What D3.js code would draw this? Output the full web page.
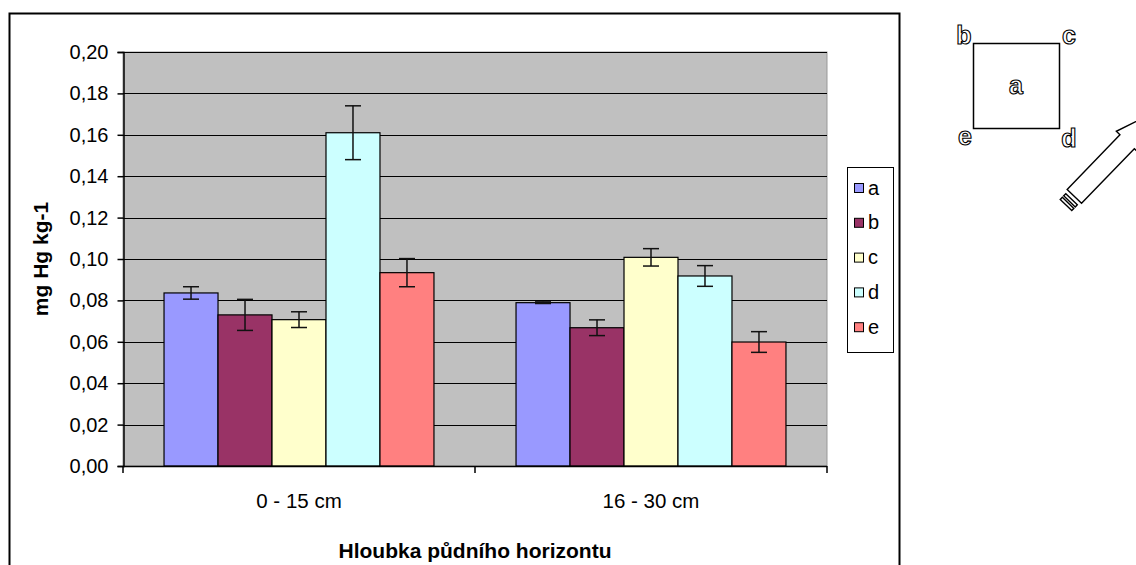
<!DOCTYPE html>
<html lang="cs">
<head>
    <meta charset="UTF-8">
    <title>Hg v půdě</title>

    <script src="https://d3js.org/d3.v7.min.js"></script>

    <style>
        body {
            margin: 0;
            background: #fff;
        }
        text {
            font-family: "Liberation Sans", Arial, sans-serif;
        }
    </style>

    <script>

        const CATEGORIES = ["0 - 15 cm", "16 - 30 cm"];
        const SERIES = ["a", "b", "c", "d", "e"];
        const COLORS = ["#9999FF", "#993366", "#FFFFCC", "#CCFFFF", "#FF8080"];

        // mean values per series, one per category
        const VALUES_A = [0.0836, 0.0789];
        const VALUES_B = [0.0730, 0.0668];
        const VALUES_C = [0.0707, 0.1008];
        const VALUES_D = [0.1610, 0.0918];
        const VALUES_E = [0.0934, 0.0599];

        // error bar half-widths
        const ERR_A = [0.0030, 0.0004];
        const ERR_B = [0.0075, 0.0038];
        const ERR_C = [0.0038, 0.0042];
        const ERR_D = [0.0130, 0.0050];
        const ERR_E = [0.0068, 0.0050];

        const Y_TICKS = [0, 0.02, 0.04, 0.06, 0.08, 0.10, 0.12, 0.14, 0.16, 0.18, 0.20];

        document.addEventListener("DOMContentLoaded", function() {
            drawChart();
        })

        function drawChart() {
            const svg = d3.select('svg');
            const width = 1136;
            const height = 565;
            svg.attr("width", width).attr("height", height);

            const allValues = [VALUES_A, VALUES_B, VALUES_C, VALUES_D, VALUES_E];
            const allErrors = [ERR_A, ERR_B, ERR_C, ERR_D, ERR_E];

            const rows = [];
            CATEGORIES.forEach(function(cat, ci) {
                SERIES.forEach(function(s, si) {
                    rows.push({cat: cat, series: s, value: allValues[si][ci], err: allErrors[si][ci]});
                });
            });

            // outer chart frame
            svg.append("rect")
                .attr("x", 9.5).attr("y", 13.5)
                .attr("width", 890).attr("height", 570)
                .attr("fill", "none")
                .attr("stroke", "black")
                .attr("stroke-width", 2);

            const plot = {left: 123, right: 827, top: 52, bottom: 466};

            const x = d3.scaleBand()
                .domain(CATEGORIES)
                .range([plot.left, plot.right]);

            const xInner = d3.scaleBand()
                .domain(SERIES)
                .range([0, x.bandwidth()])
                .paddingOuter(0.76);

            const y = d3.scaleLinear()
                .domain([0, 0.2])
                .range([plot.bottom, plot.top]);

            const color = d3.scaleOrdinal().domain(SERIES).range(COLORS);

            const locale = d3.formatLocale({decimal: ",", thousands: " ", grouping: [3], currency: ["", ""]});
            const fmt = locale.format(".2f");

            // plot background
            svg.append("rect")
                .attr("x", plot.left).attr("y", plot.top)
                .attr("width", plot.right - plot.left)
                .attr("height", plot.bottom - plot.top)
                .attr("fill", "#C0C0C0")
                .attr("stroke", "#999")
                .attr("stroke-width", 1);

            // gridlines
            svg.append("g")
                .selectAll("line")
                .data(Y_TICKS.slice(1))
                .enter()
                .append("line")
                .attr("x1", plot.left).attr("x2", plot.right)
                .attr("y1", d => Math.round(y(d)) + 0.5)
                .attr("y2", d => Math.round(y(d)) + 0.5)
                .attr("stroke", "black")
                .attr("stroke-width", 1);

            // bars
            const bars = svg.append("g");
            bars.selectAll("rect")
                .data(rows)
                .enter()
                .append("rect")
                .attr("x", d => x(d.cat) + xInner(d.series))
                .attr("y", d => y(d.value))
                .attr("width", xInner.bandwidth())
                .attr("height", d => y(0) - y(d.value))
                .attr("fill", d => color(d.series))
                .attr("stroke", "black")
                .attr("stroke-width", 1.2);

            // error bars
            const errs = svg.append("g").attr("stroke", "#111").attr("stroke-width", 1.5);
            rows.forEach(function(d) {
                const cx = x(d.cat) + xInner(d.series) + xInner.bandwidth() / 2;
                errs.append("line")
                    .attr("x1", cx).attr("x2", cx)
                    .attr("y1", y(d.value + d.err)).attr("y2", y(d.value - d.err));
                [d.value + d.err, d.value - d.err].forEach(function(v) {
                    errs.append("line")
                        .attr("x1", cx - 8).attr("x2", cx + 8)
                        .attr("y1", y(v)).attr("y2", y(v));
                });
            });

            // y axis
            const yAxis = d3.axisLeft(y)
                .tickValues(Y_TICKS)
                .tickFormat(fmt)
                .tickSize(6)
                .tickPadding(9);
            const gy = svg.append("g")
                .attr("transform", "translate(" + (plot.left + 0.5) + ",0)")
                .call(yAxis);
            gy.selectAll("path, line").attr("stroke", "black").attr("stroke-width", 1.5);
            gy.selectAll("text")
                .attr("font-size", "20px")
                .attr("font-family", "'Liberation Sans', Arial, sans-serif")
                .attr("fill", "black");

            // x axis: ticks at category boundaries
            const boundaries = [plot.left].concat(CATEGORIES.map(c => x(c) + x.bandwidth()));
            const gx = svg.append("g");
            gx.append("line")
                .attr("x1", plot.left).attr("x2", plot.right)
                .attr("y1", plot.bottom + 0.5).attr("y2", plot.bottom + 0.5)
                .attr("stroke", "black").attr("stroke-width", 1.5);
            gx.selectAll("line.tick")
                .data(boundaries)
                .enter()
                .append("line")
                .attr("class", "tick")
                .attr("x1", d => d).attr("x2", d => d)
                .attr("y1", plot.bottom).attr("y2", plot.bottom + 7)
                .attr("stroke", "black").attr("stroke-width", 1.5);
            gx.selectAll("text")
                .data(CATEGORIES)
                .enter()
                .append("text")
                .attr("x", d => x(d) + x.bandwidth() / 2)
                .attr("y", 508)
                .attr("text-anchor", "middle")
                .attr("font-size", "20.5px")
                .text(d => d);

            // axis titles
            svg.append("text")
                .attr("x", (plot.left + plot.right) / 2)
                .attr("y", 558)
                .attr("text-anchor", "middle")
                .attr("font-size", "21px")
                .attr("font-weight", "bold")
                .text("Hloubka půdního horizontu");

            svg.append("text")
                .attr("transform", "translate(48," + ((plot.top + plot.bottom) / 2) + ") rotate(-90)")
                .attr("text-anchor", "middle")
                .attr("font-size", "21px")
                .attr("font-weight", "bold")
                .text("mg Hg kg-1");

            // legend
            const legend = svg.append("g").attr("transform", "translate(847,167)");
            legend.append("rect")
                .attr("x", 0.5).attr("y", 0.5)
                .attr("width", 46).attr("height", 185)
                .attr("fill", "white")
                .attr("stroke", "black");
            const items = legend.selectAll("g.item")
                .data(SERIES)
                .enter()
                .append("g")
                .attr("class", "item")
                .attr("transform", (d, i) => "translate(0," + (21 + i * 34.8) + ")");
            items.append("rect")
                .attr("x", 7.5).attr("y", -4.5)
                .attr("width", 9).attr("height", 9)
                .attr("fill", d => color(d))
                .attr("stroke", "black");
            items.append("text")
                .attr("x", 21).attr("y", 6.5)
                .attr("font-size", "20px")
                .text(d => d);

            // sketch of the sampling plot: square with corner labels
            const sketch = svg.append("g");
            sketch.append("rect")
                .attr("x", 973.5).attr("y", 43.5)
                .attr("width", 86).attr("height", 85)
                .attr("fill", "none")
                .attr("stroke", "black")
                .attr("stroke-width", 1.5);
            const corners = [
                {t: "b", x: 964, y: 44},
                {t: "c", x: 1069, y: 44},
                {t: "e", x: 965, y: 145},
                {t: "d", x: 1069, y: 147},
                {t: "a", x: 1016, y: 94}
            ];
            sketch.selectAll("text")
                .data(corners)
                .enter()
                .append("text")
                .attr("x", d => d.x).attr("y", d => d.y)
                .attr("text-anchor", "middle")
                .attr("font-family", "'DejaVu Sans', sans-serif")
                .attr("font-size", "25px")
                .attr("font-weight", "bold")
                .attr("fill", "white")
                .attr("stroke", "black")
                .attr("stroke-width", 1.1)
                .text(d => d.t);

            // striped arrow pointing to the upper right
            const arrow = sketch.append("g")
                .attr("transform", "translate(1066,205) rotate(-46)")
                .attr("fill", "white")
                .attr("stroke", "black")
                .attr("stroke-width", 1.4);
            arrow.append("path")
                .attr("d", "M12,-10 L88,-10 L88,-15 L130,0 L88,15 L88,10 L12,10 Z");
            arrow.append("rect").attr("x", 0).attr("y", -8).attr("width", 3).attr("height", 16);
            arrow.append("rect").attr("x", 5).attr("y", -8).attr("width", 3).attr("height", 16);
        }

    </script>

</head>
<body>
    <svg id="chart"></svg>
</body>
</html>
